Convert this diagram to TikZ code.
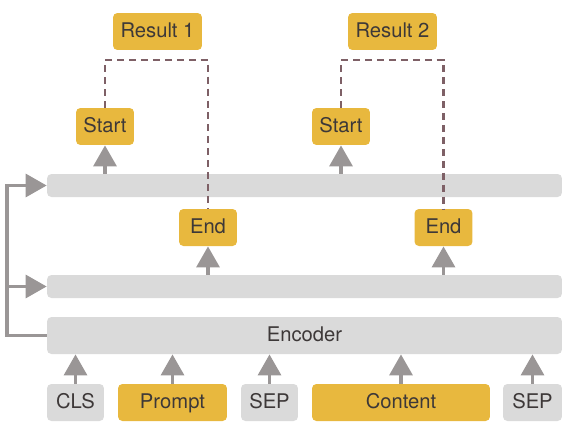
\documentclass[tikz,border=0pt]{standalone}
\usepackage{fontspec}
\setmainfont{TeX Gyre Heros}
\usetikzlibrary{positioning,arrows.meta}
\definecolor{boxyellow}{HTML}{E8B83E}
\definecolor{boxgray}{HTML}{DADADA}
\definecolor{arrowgray}{HTML}{9A9696}
\definecolor{dashbrown}{HTML}{7E6066}
\definecolor{textdark}{HTML}{3D3838}
\begin{document}
\begin{tikzpicture}[x=0.02cm,y=-0.02cm,
    tok/.style={rounded corners=2.5pt,inner sep=0pt,minimum height=0.74cm,text height=0.72em,text depth=0pt,text=textdark,font=\fontsize{11.5}{13}\selectfont},
    ybox/.style={tok,fill=boxyellow},
    gbox/.style={tok,fill=boxgray},
    bar/.style={gbox,minimum width=10.3cm},
    up/.style={-{Triangle[width=13pt,length=12pt]},draw=arrowgray,line width=2.2pt},
    link/.style={draw=dashbrown,line width=1.4pt,dash pattern=on 4pt off 2.8pt}]
    \useasboundingbox (0,0) rectangle (575,433);
    % inputs
    \node[gbox,minimum width=1.14cm] (cls) at (75.5,402.5) {CLS};
    \node[ybox,minimum width=2.18cm] (prompt) at (172.5,402.5) {Prompt};
    \node[gbox,minimum width=1.14cm] (sep1) at (269.5,402.5) {SEP};
    \node[ybox,minimum width=3.56cm] (content) at (401,402.5) {Content};
    \node[gbox,minimum width=1.18cm] (sep2) at (532.5,402.5) {SEP};
    % layers
    \node[bar] (enc) at (304.5,335.5) {Encoder};
    \node[bar,minimum height=0.46cm] (mid) at (304.5,286.5) {};
    \node[bar,minimum height=0.46cm] (top) at (304.5,185.5) {};
    % outputs
    \node[ybox,minimum width=1.16cm] (end1) at (208,227.5) {End};
    \node[ybox,minimum width=1.16cm] (end2) at (443.5,227.5) {End};
    \node[ybox,minimum width=1.16cm] (start1) at (105,126.5) {Start};
    \node[ybox,minimum width=1.16cm] (start2) at (341,126.5) {Start};
    \node[ybox,minimum width=1.78cm] (res1) at (157.5,31.5) {Result 1};
    \node[ybox,minimum width=1.78cm] (res2) at (392.5,31.5) {Result 2};
    \coordinate (j1) at (157.5,60);
    \coordinate (j2) at (392.5,60);
    \coordinate (fb) at (7,335.5);

    \foreach \t in {cls,prompt,sep1,content,sep2}
        \draw[up] (\t.north) -- (enc.south -| \t);
    \draw[up] (mid.north -| end1) -- (end1.south);
    \draw[up] (mid.north -| end2) -- (end2.south);
    \draw[up] (top.north -| start1) -- (start1.south);
    \draw[up] (top.north -| start2) -- (start2.south);

    \draw[up] (enc.west) -- (fb) |- (top.west);
    \draw[up] (fb |- mid.west) -- (mid.west);

    \draw[link] (start1.north) |- (j1) -| (end1.north);
    \draw[link] (start2.north) |- (j2) -| (end2.north);
\end{tikzpicture}
\end{document}
